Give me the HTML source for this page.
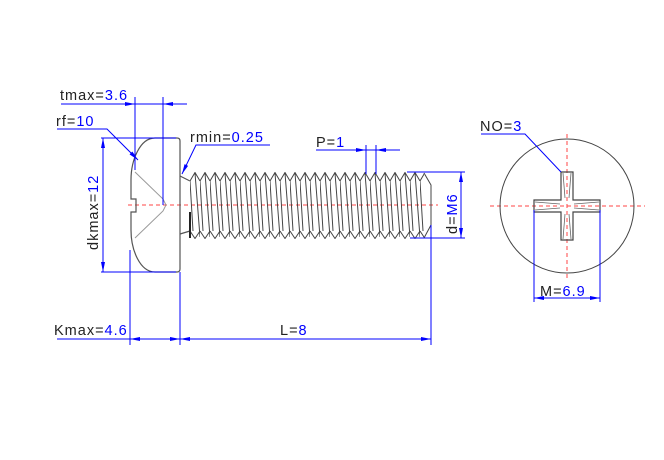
<!DOCTYPE html>
<html><head><meta charset="utf-8"><style>
html,body{margin:0;padding:0;background:#fff;}
svg{display:block;}
text{font-family:"Liberation Sans","DejaVu Sans",sans-serif;font-size:14.5px;letter-spacing:1px;}
</style></head><body>
<svg width="664" height="460" viewBox="0 0 664 460" xmlns="http://www.w3.org/2000/svg">
<defs>
<marker id="a" viewBox="0 0 10 4" refX="10" refY="2" markerWidth="10" markerHeight="4" markerUnits="userSpaceOnUse" orient="auto-start-reverse"><path d="M0,0L10,2L0,4z" fill="#0000ff"/></marker>
<pattern id="th" patternUnits="userSpaceOnUse" x="190" y="172" width="10" height="67">
<path d="M0,9 L5,0.5 L10,9 M0,59 L5,66.5 L10,59 M5,1 L10,65 M0,9 L3,59" stroke="#444" stroke-width="1" fill="none"/>
</pattern>
</defs>
<g stroke="#ff4444" stroke-width="1" stroke-dasharray="4,3" fill="none">
<line x1="128" y1="205" x2="438" y2="205"/>
<line x1="490" y1="206" x2="645" y2="206"/>
<line x1="567" y1="134" x2="567" y2="278"/>
</g>
<g stroke="#555" stroke-width="1.2" fill="none">
<path d="M155,138 L177,138 Q180,138 180,141 L180,269 Q180,272 177,272 L155,272 C140,272 131,250 131,230 L131,212 L136,212 L136,199 L131,199 L131,180 C131,160 140,138 155,138 Z"/>
<path d="M180,176 L190,181 M180,234 L190,231" />
</g>
<path d="M135,172 L163,199 L166,205 L163,211 L135,238" stroke="#999" stroke-width="1" fill="none"/>
<rect x="190" y="172" width="234" height="67" fill="url(#th)"/>
<path d="M424,173 L431,185 L431,225 L424,238" stroke="#444" stroke-width="1" fill="none"/>
<path d="M190,212 L190,238" stroke="#222" stroke-width="2"/>
<circle cx="567" cy="206" r="67" stroke="#444" stroke-width="1" fill="none"/>
<path d="M561,172 L573,172 L573,200 L600,200 L600,212 L573,212 L573,240 L561,240 L561,212 L534,212 L534,200 L561,200 Z" stroke="#444" stroke-width="1.2" fill="none"/>
<path d="M563,173 L565,198 M571,173 L569,198 M563,239 L565,214 M571,239 L569,214 M535,202 L560,204 M535,210 L560,208 M599,202 L574,204 M599,210 L574,208" stroke="#666" stroke-width="0.8" fill="none"/>
<g stroke="#0000ff" stroke-width="1" fill="none">
<line x1="61" y1="104" x2="187" y2="104"/>
<line x1="118" y1="104" x2="135" y2="104" marker-end="url(#a)"/>
<line x1="180" y1="104" x2="163" y2="104" marker-end="url(#a)"/>
<line x1="135" y1="97" x2="135" y2="170"/>
<line x1="163" y1="97" x2="163" y2="205"/>
<polyline points="57,129 107,129 138,160" marker-end="url(#a)"/>
<line x1="101" y1="138" x2="176" y2="138"/>
<line x1="101" y1="272" x2="176" y2="272"/>
<line x1="103" y1="138" x2="103" y2="272" marker-start="url(#a)" marker-end="url(#a)"/>
<polyline points="270,145 196,145 182,174" marker-end="url(#a)"/>
<line x1="316" y1="150" x2="400" y2="150"/>
<line x1="352" y1="150" x2="366" y2="150" marker-end="url(#a)"/>
<line x1="390" y1="150" x2="376" y2="150" marker-end="url(#a)"/>
<line x1="366" y1="145" x2="366" y2="174"/>
<line x1="376" y1="145" x2="376" y2="174"/>
<line x1="407" y1="172" x2="465" y2="172"/>
<line x1="410" y1="238" x2="465" y2="238"/>
<line x1="461" y1="172" x2="461" y2="238" marker-start="url(#a)" marker-end="url(#a)"/>
<line x1="130" y1="250" x2="130" y2="345"/>
<line x1="180" y1="272" x2="180" y2="345"/>
<line x1="431" y1="225" x2="431" y2="345"/>
<line x1="57" y1="339" x2="431" y2="339"/>
<line x1="145" y1="339" x2="130" y2="339" marker-end="url(#a)"/>
<line x1="165" y1="339" x2="180" y2="339" marker-end="url(#a)"/>
<line x1="195" y1="339" x2="180" y2="339" marker-end="url(#a)"/>
<line x1="416" y1="339" x2="431" y2="339" marker-end="url(#a)"/>
<polyline points="481,134 525,134 561,172"/>
<line x1="534" y1="210" x2="534" y2="302"/>
<line x1="600" y1="210" x2="600" y2="302"/>
<line x1="534" y1="298" x2="600" y2="298" marker-start="url(#a)" marker-end="url(#a)"/>
</g>
<g fill="#222">
<text x="60" y="100">tmax=<tspan fill="#0000ff">3.6</tspan></text>
<text x="56" y="126">rf=<tspan fill="#0000ff">10</tspan></text>
<text x="190" y="142">rmin=<tspan fill="#0000ff">0.25</tspan></text>
<text x="316" y="147">P=<tspan fill="#0000ff">1</tspan></text>
<text x="480" y="131">NO=<tspan fill="#0000ff">3</tspan></text>
<text x="540" y="296">M=<tspan fill="#0000ff">6.9</tspan></text>
<text x="54" y="335">Kmax=<tspan fill="#0000ff">4.6</tspan></text>
<text x="280" y="335">L=<tspan fill="#0000ff">8</tspan></text>
<text transform="translate(98,250) rotate(-90)">dkmax=<tspan fill="#0000ff">12</tspan></text>
<text transform="translate(457,234) rotate(-90)">d=<tspan fill="#0000ff">M6</tspan></text>
</g>
</svg>
</body></html>
